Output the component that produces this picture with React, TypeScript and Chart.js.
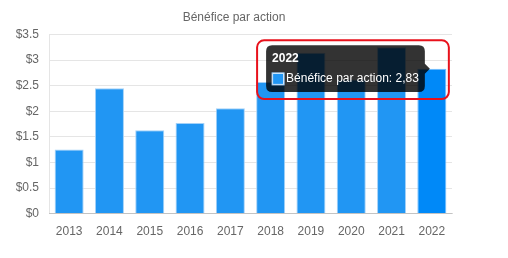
import React, { useEffect, useRef } from "react";
import { Chart, registerables } from "chart.js";

Chart.register(...registerables);

const years = ["2013", "2014", "2015", "2016", "2017", "2018", "2019", "2020", "2021", "2022"];
const eps = [1.25, 2.45, 1.63, 1.77, 2.06, 2.57, 3.14, 2.62, 3.25, 2.83];
const seriesLabel = "Bénéfice par action";
const chartTitle = "Bénéfice par action";
const activeIndex = 9;

const highlightPlugin = {
  id: "tooltipHighlight",
  afterDraw(chart: any) {
    const tt = chart.tooltip;
    if (!tt || !tt.opacity) return;
    const ctx = chart.ctx;
    const x = tt.x - 9;
    const y = tt.y - 5;
    const w = tt.width + 33;
    const h = tt.height + 12;
    ctx.save();
    ctx.strokeStyle = "#e8111b";
    ctx.lineWidth = 2;
    ctx.beginPath();
    (ctx as any).roundRect(x, y, w, h, 7);
    ctx.stroke();
    ctx.restore();
  },
};

export default function App() {
  const ref = useRef<HTMLCanvasElement>(null);
  useEffect(() => {
    if (!ref.current) return;
    const chart = new Chart(ref.current, {
      type: "bar",
      data: {
        labels: years,
        datasets: [
          {
            label: seriesLabel,
            data: eps,
            backgroundColor: "#2196F3",
            borderColor: "#a3d1f8",
            borderWidth: 1,
          },
        ],
      },
      options: {
        responsive: false,
        animation: false,
        events: [],
        layout: { padding: { left: 8, right: 16, top: 0, bottom: 8 } },
        plugins: {
          legend: { display: false },
          title: {
            display: true,
            text: chartTitle,
            color: "#666",
            font: { size: 12, weight: "normal" },
            padding: { top: 2, bottom: 10 },
          },
          tooltip: {
            enabled: true,
            callbacks: {
              label: (c: any) => `${c.dataset.label}: ${c.parsed.y.toFixed(2).replace(".", ",")}`,
            },
          },
        },
        scales: {
          x: {
            grid: { display: false },
            border: { color: "rgba(0,0,0,0.15)" },
            ticks: { color: "#666", font: { size: 12 } },
          },
          y: {
            min: 0,
            max: 3.5,
            afterFit: (s: any) => {
              s.width = 33;
            },
            grid: { drawTicks: false, color: "rgba(0,0,0,0.1)" },
            border: { color: "rgba(0,0,0,0.1)" },
            ticks: {
              stepSize: 0.5,
              padding: 10,
              color: "#666",
              font: { size: 12 },
              callback: (v: any) => "$" + v,
            },
          },
        },
      },
      plugins: [highlightPlugin],
    });
    const act = [{ datasetIndex: 0, index: activeIndex }];
    chart.setActiveElements(act);
    const el: any = chart.getDatasetMeta(0).data[activeIndex];
    chart.tooltip!.setActiveElements(act, { x: el.x, y: el.y });
    chart.update();
    return () => chart.destroy();
  }, []);
  return (
    <div>
      <canvas ref={ref} width={460} height={242} style={{ display: "block" }} />
    </div>
  );
}
